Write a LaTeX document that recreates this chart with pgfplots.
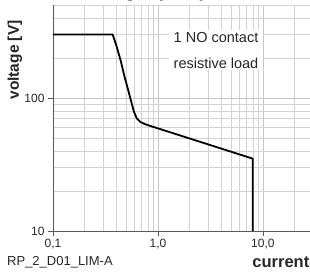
\documentclass[border=0pt]{standalone}
\usepackage{pgfplots}
\pgfplotsset{compat=1.18}
\usepackage{fontspec}
\setmainfont{Liberation Sans}
\begin{document}
\begin{tikzpicture}
\begin{axis}[
  scale only axis, width=260pt, height=226pt,
  at={(0,0)}, anchor=south west,
  xmode=log, ymode=log,
  xmin=0.1, xmax=30, ymin=10, ymax=500,
  xtick={0.1,1,10}, xticklabels={{0,1},{1,0},{10,0}},
  ytick={10,100}, yticklabels={10,100},
  minor xtick={0.2,0.3,0.4,0.5,0.6,0.7,0.8,0.9,2,3,4,5,6,7,8,9,20,30},
  minor ytick={20,30,40,50,60,70,80,90,200,300,400,500},
  grid=both,
  major grid style={gray!45, line width=0.5pt},
  minor grid style={gray!35, line width=0.5pt},
  minor tick length=0pt, major tick length=5pt, tick align=outside,
  tick style={gray!70!black, line width=0.6pt},
  axis x line*=bottom, axis y line*=left,
  axis line style={-, gray!70!black, line width=0.6pt},
  /pgf/number format/assume math mode=true,
  tick label style={font=\fontsize{12}{14}\selectfont, text=black!85},
  clip=false,
]
\addplot[black, line width=1.8pt, line join=round] coordinates {
 (0.1,300) (0.37,300) (0.40,250) (0.44,193) (0.48,145) (0.52,115) (0.56,92) (0.59,79) (0.63,70) (0.68,66) (0.74,64) (0.8,62.5) (8,35) (8,10)
};
\node[fill=white, align=center, inner xsep=5pt, inner ysep=2pt, font=\fontsize{14.5}{26}\selectfont, text=black!85]
  at (rel axis cs:0.627,0.80) {1 NO contact\\resistive load};
\end{axis}
\node[rotate=90, font=\bfseries\fontsize{15.5}{18}\selectfont, text=black!85] at (-38pt,171pt) {voltage [V]};
\node[anchor=west, inner sep=0pt, font=\fontsize{13}{15}\selectfont, text=black!85] at (-46pt,-31pt) {RP\_2\_D01\_LIM-A};
\node[anchor=east, inner sep=0pt, font=\bfseries\fontsize{16.5}{18}\selectfont, text=black!85] at (256.5pt,-31pt) {current};
\node[anchor=base west, inner sep=0pt, font=\bfseries\fontsize{17}{19}\selectfont, text=black!85] at (4pt,233pt) {switching capacity};
\pgfresetboundingbox
\useasboundingbox (-53pt,-40pt) rectangle (257pt,231pt);
\end{tikzpicture}
\end{document}
